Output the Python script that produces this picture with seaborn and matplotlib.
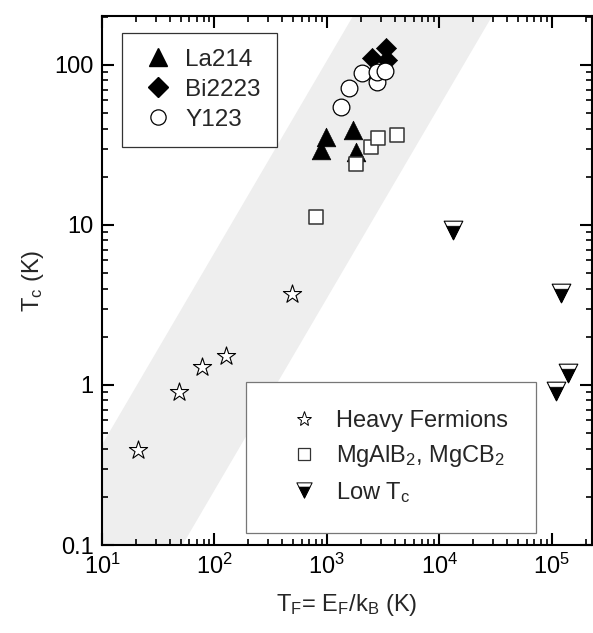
import numpy as np
import matplotlib
matplotlib.use("Agg")
import matplotlib.pyplot as plt
import seaborn as sns
from matplotlib.path import Path
from matplotlib.lines import Line2D
from matplotlib.ticker import FuncFormatter, LogLocator, NullFormatter

# ---------------- data ----------------
hf_tf = [21, 48, 77, 128, 489]
hf_tc = [0.39, 0.90, 1.30, 1.52, 3.7]

la_tf = [979, 885, 1700, 1810]
la_tc = [35.5, 29.4, 39.3, 28.6]

bi_tf = [2510, 3340, 3410]
bi_tc = [110, 128, 107]

y_tf = [1330, 1570, 2050, 2780, 2780, 3280]
y_tc = [54.6, 71.8, 89, 78, 90, 92]

mg_tf = [798, 1810, 2460, 2840, 4190]
mg_tc = [11.2, 24, 30.7, 35, 36.5]

low_tf = [13200, 120000, 139000, 108600]
low_tc = [9.3, 3.76, 1.19, 0.92]

# band: Tc = 10**a * TF**slope (left and right edges)
band_slope = 1.2
band_log_a = [-1.565, -3.05]

xlim = (10, 2.27e5)
ylim = (0.1, 202)

# ---------------- style ----------------
sns.set_style("ticks")
plt.rcParams["font.family"] = ["Liberation Sans", "DejaVu Sans"]
plt.rcParams["mathtext.fontset"] = "custom"
plt.rcParams["mathtext.rm"] = "Liberation Sans"
plt.rcParams["mathtext.it"] = "Liberation Sans:italic"

fig = plt.figure(figsize=(5.93, 6.33), dpi=100)
ax = fig.add_axes([0.172, 0.139, 0.826, 0.8357])
ax.set_xscale("log")
ax.set_yscale("log")
ax.set_xlim(*xlim)
ax.set_ylim(*ylim)

# gray band
yy = np.array(ylim)
x_left = (yy / 10 ** band_log_a[0]) ** (1 / band_slope)
x_right = (yy / 10 ** band_log_a[1]) ** (1 / band_slope)
ax.fill_betweenx(yy, x_left, x_right, color="#eeeeee", linewidth=0, zorder=0)

# custom half-filled down triangle
tri_full = Path([(-1, 1), (1, 1), (0, -1), (-1, 1)],
                [Path.MOVETO, Path.LINETO, Path.LINETO, Path.CLOSEPOLY])
cut = 0.46
hw = (cut + 1) / 2
tri_low = Path([(-hw, cut), (hw, cut), (0, -1), (-hw, cut)],
               [Path.MOVETO, Path.LINETO, Path.LINETO, Path.CLOSEPOLY])

sns.scatterplot(x=hf_tf, y=hf_tc, marker="*", s=190, color="white",
                edgecolor="black", linewidth=0.8, ax=ax, zorder=3)
sns.scatterplot(x=la_tf, y=la_tc, marker="^", s=180, color="black",
                edgecolor="black", linewidth=0.5, ax=ax, zorder=3)
sns.scatterplot(x=bi_tf, y=bi_tc, marker="D", s=105, color="black",
                edgecolor="black", linewidth=0.5, ax=ax, zorder=3)
sns.scatterplot(x=y_tf, y=y_tc, marker="o", s=145, color="white",
                edgecolor="black", linewidth=0.9, ax=ax, zorder=4)
sns.scatterplot(x=mg_tf, y=mg_tc, marker="s", s=110, color="white",
                edgecolor="#333333", linewidth=1.1, ax=ax, zorder=4)
sns.scatterplot(x=low_tf, y=low_tc, marker=tri_full, s=180, color="white",
                edgecolor="black", linewidth=0.8, ax=ax, zorder=4)
sns.scatterplot(x=low_tf, y=low_tc, marker=tri_low, s=180, color="black",
                edgecolor="black", linewidth=0.5, ax=ax, zorder=5)

# axes styling
for sp in ax.spines.values():
    sp.set_linewidth(1.5)
    sp.set_color("black")
ax.tick_params(which="both", direction="in", top=True, right=True, colors="black")
ax.tick_params(which="major", length=8.5, width=1.5, labelsize=17, pad=6)
ax.tick_params(which="minor", length=4.3, width=1.2)
ax.xaxis.set_major_locator(LogLocator(base=10, numticks=10))
ax.xaxis.set_minor_locator(LogLocator(base=10, subs=np.arange(2, 10), numticks=20))
ax.yaxis.set_major_locator(LogLocator(base=10, numticks=10))
ax.yaxis.set_minor_locator(LogLocator(base=10, subs=np.arange(2, 10), numticks=20))
ax.xaxis.set_major_formatter(FuncFormatter(lambda v, p: r"$\mathregular{10^{%d}}$" % round(np.log10(v))))
ax.yaxis.set_major_formatter(FuncFormatter(lambda v, p: ("%g" % v)))
ax.xaxis.set_minor_formatter(NullFormatter())
ax.yaxis.set_minor_formatter(NullFormatter())
ax.grid(False)

ax.set_xlabel(r"T$_\mathregular{F}$= E$_\mathregular{F}$/k$_\mathregular{B}$ (K)", fontsize=17, labelpad=10)
ax.set_ylabel(r"T$_\mathregular{c}$ (K)", fontsize=17, labelpad=6)

# legends
h1 = [Line2D([], [], ls="none", marker="^", ms=13, mfc="black", mec="black"),
      Line2D([], [], ls="none", marker="D", ms=10, mfc="black", mec="black"),
      Line2D([], [], ls="none", marker="o", ms=11, mfc="white", mec="black", mew=0.9)]
leg1 = ax.legend(h1, ["La214", "Bi2223", "Y123"], loc="upper left",
                 bbox_to_anchor=(0.041, 0.968), borderaxespad=0, fontsize=17.5,
                 frameon=True, fancybox=False, framealpha=1, edgecolor="#333333",
                 borderpad=0.65, handlelength=1.62, handletextpad=0.33, labelspacing=0.33)
leg1.get_frame().set_linewidth(0.9)
ax.add_artist(leg1)

h2 = [Line2D([], [], ls="none", marker="*", ms=11, mfc="white", mec="black", mew=0.7),
      Line2D([], [], ls="none", marker="s", ms=8, mfc="white", mec="#333333", mew=0.9),
      (Line2D([], [], ls="none", marker=tri_full, ms=11, mfc="white", mec="black", mew=0.7),
       Line2D([], [], ls="none", marker=tri_low, ms=11, mfc="black", mec="black", mew=0.4))]
leg2 = ax.legend(h2, ["Heavy Fermions", r"MgAlB$_\mathregular{2}$, MgCB$_\mathregular{2}$",
                      r"Low T$_\mathregular{c}$"],
                 loc="lower left", bbox_to_anchor=(0.295, 0.023), borderaxespad=0,
                 fontsize=17, frameon=True, fancybox=False, framealpha=1,
                 edgecolor="#777777", borderpad=1.2, handlelength=2.45,
                 handletextpad=0.13, labelspacing=0.45)
leg2.get_frame().set_linewidth(0.9)

fig.savefig("out.png", dpi=100)
